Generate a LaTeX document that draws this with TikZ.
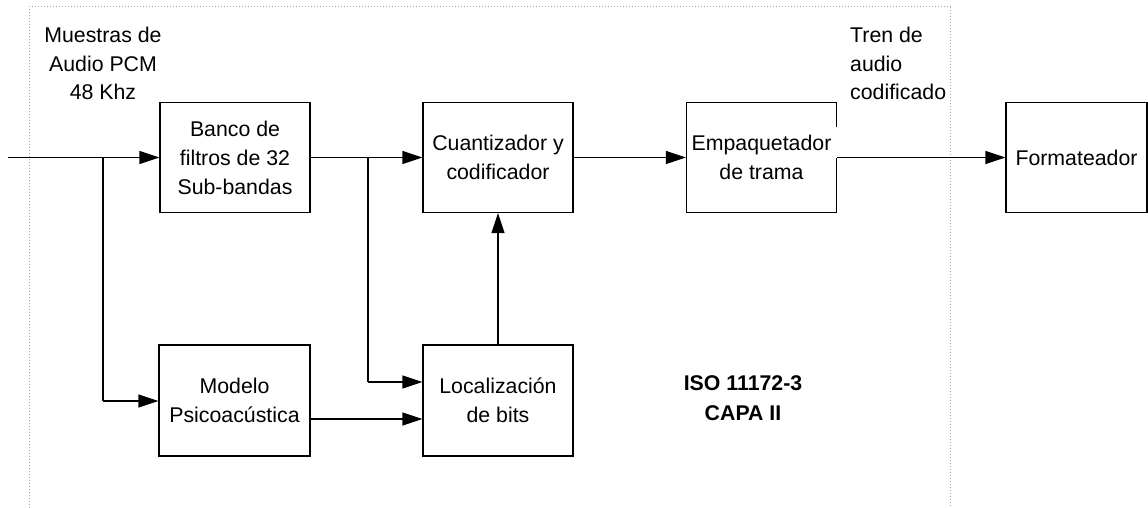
\documentclass[tikz,border=0pt]{standalone}
\usepackage{fontspec}
\setmainfont{Liberation Sans}
\usetikzlibrary{arrows.meta,calc}
\begin{document}
\begin{tikzpicture}[x=1pt,y=-1pt,
  blk/.style={draw,line width=1.3pt,inner sep=0pt,align=center,
    font=\fontsize{21.3}{29}\selectfont},
  lbl/.style={inner sep=0pt,font=\fontsize{21.3}{28.5}\selectfont},
  conn/.style={line width=1.3pt,-{Triangle[length=20pt,width=13pt]}},
  plain/.style={line width=1.3pt},
  frame/.style={draw=black!35,dotted,line width=1pt}]
\useasboundingbox (0,0) rectangle (1148,508);
% frame
\coordinate (f1) at (29,508);
\coordinate (f2) at (29,7);
\coordinate (f3) at (950,7);
\coordinate (f4) at (950,508);
\draw[frame] (f1) -- (f2) -- (f3) -- (f4);
% blocks
\node[blk,minimum width=150pt,minimum height=110pt] (banco) at (235,157.5) {Banco de\\filtros de 32\\Sub-bandas};
\node[blk,minimum width=150pt,minimum height=110pt] (cuant) at (498,157.5) {Cuantizador y\\codificador};
\node[blk,minimum width=150pt,minimum height=110pt] (emp) at (761.5,157.5) {Empaquetador\\de trama};
\node[blk,minimum width=141pt,minimum height=110pt] (form) at (1076.5,157.5) {Formateador};
\node[blk,minimum width=151pt,minimum height=111pt] (mod) at (234.5,400.5) {Modelo\\Psicoacústica};
\node[blk,minimum width=150pt,minimum height=111pt] (loc) at (498,400.5) {Localización\\de bits};
% gap in the right border of the frame packer
\fill[white] ($(emp.north east)+(-2,25)$) rectangle ($(emp.east)+(2,0)$);
% labels
\node[lbl,align=center,anchor=north] (inlbl) at (103,27) {Muestras de\\Audio PCM\\48 Khz};
\node[lbl,align=left,anchor=north west] (outlbl) at (850,27) {Tren de\\audio\\codificado};
\node[inner sep=0pt,align=center,anchor=north,font=\fontsize{21.3}{30}\selectfont\bfseries] (iso) at (743,375) {ISO 11172-3\\CAPA II};
% connectors
\coordinate (in) at (8,157.5);
\coordinate (b1) at (103,157.5);
\coordinate (b1d) at (103,401);
\coordinate (b2) at (368,157.5);
\coordinate (b2d) at (368,382);
\draw[conn] (in) -- (banco.west);
\draw[plain] (b1) -- (b1d);
\draw[conn] (b1d) -- (b1d -| mod.west);
\draw[conn] (banco.east) -- (cuant.west);
\draw[plain] (b2) -- (b2d);
\draw[conn] (b2d) -- (b2d -| loc.west);
\draw[conn] (mod.east |- 0,419) -- (loc.west |- 0,419);
\draw[conn] (loc.north) -- (cuant.south);
\draw[conn] (cuant.east) -- (emp.west);
\draw[conn] (emp.east) -- (form.west);
\end{tikzpicture}
\end{document}
